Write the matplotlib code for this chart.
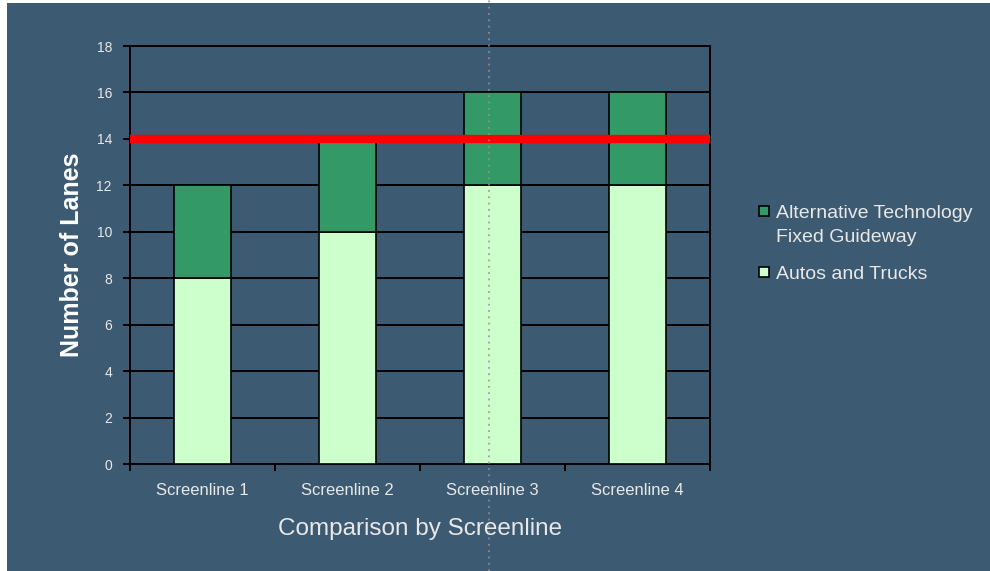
import matplotlib
matplotlib.use("Agg")
import matplotlib.pyplot as plt
from matplotlib.patches import Rectangle
from matplotlib.lines import Line2D
import numpy as np

plt.rcParams['font.family'] = ['Liberation Sans', 'DejaVu Sans']

# Data
screenlines = ["Screenline 1", "Screenline 2", "Screenline 3", "Screenline 4"]
autos_trucks = [8, 10, 12, 12]
alt_technology = [4, 4, 4, 4]
threshold = 14
yticks = [0, 2, 4, 6, 8, 10, 12, 14, 16, 18]
series_labels = ["Alternative Technology\nFixed Guideway", "Autos and Trucks"]

BG = "#3C5A71"
DARK_GREEN = "#339966"
LIGHT_GREEN = "#CCFFCC"
TEXT = "#E8E8E8"

fig = plt.figure(figsize=(9.9, 5.71), dpi=100, facecolor="white")
W, H = 990, 571
# dark panel behind the chart (thin white margin on left and top)
fig.patches.append(Rectangle((7 / W, 0), 1 - 7 / W, 1 - 3 / H,
                             transform=fig.transFigure, facecolor=BG,
                             edgecolor="none", zorder=-10))

ax = fig.add_axes([130 / W, 1 - 464 / H, 580 / W, 418 / H])
ax.set_facecolor(BG)

x = np.arange(len(screenlines))
bw = 0.39
ax.bar(x, autos_trucks, bw, color=LIGHT_GREEN, edgecolor="black", linewidth=1.2, zorder=3)
ax.bar(x, alt_technology, bw, bottom=autos_trucks, color=DARK_GREEN,
       edgecolor="black", linewidth=1.2, zorder=3)

ax.axhline(threshold, color="#FF0000", linewidth=6, zorder=4, solid_capstyle="butt")

ax.set_xlim(-0.5, len(screenlines) - 0.5)
ax.set_ylim(0, 18)
ax.set_yticks(yticks)
ax.set_yticklabels([str(v) for v in yticks])
ax.yaxis.grid(True, color="black", linewidth=1.4, zorder=1)
ax.set_axisbelow(True)

ax.set_xticks(x)
ax.set_xticklabels(screenlines)
ax.set_xticks(np.arange(-0.5, len(screenlines)), minor=True)
ax.tick_params(axis="x", which="major", length=0, pad=14, labelsize=12, labelcolor=TEXT)
ax.tick_params(axis="x", which="minor", length=5, width=1.4, color="black", direction="out")
ax.tick_params(axis="y", length=5, width=1.4, color="black", pad=8, labelsize=10, labelcolor=TEXT)

for s in ax.spines.values():
    s.set_color("black")
    s.set_linewidth(1.4)

ax.set_ylabel("Number of Lanes", fontsize=18, fontweight="bold", color="white", labelpad=9)
ax.set_xlabel("Comparison by Screenline", fontsize=17.5, color=TEXT, labelpad=14)

# Legend
legend_colors = [DARK_GREEN, LIGHT_GREEN]
legend_y = [211, 272]
for lab, col, yy in zip(series_labels, legend_colors, legend_y):
    fig.patches.append(Rectangle((759 / W, 1 - (yy + 5) / H), 10 / W, 10 / H,
                                 transform=fig.transFigure, facecolor=col,
                                 edgecolor="black", linewidth=1.2, zorder=5))
    fig.text(776 / W, 1 - (yy - 6) / H, lab, fontsize=14, color=TEXT,
             va="top", ha="left", linespacing=1.55)

# dotted guide line across the sheet
fig.add_artist(Line2D([489 / W, 489 / W], [0, 1], transform=fig.transFigure,
                      color="#9c8f98", linewidth=1.3, linestyle=(0, (1, 2.5)),
                      alpha=0.85, zorder=10))

fig.savefig("out.png", dpi=100, facecolor=fig.get_facecolor())
